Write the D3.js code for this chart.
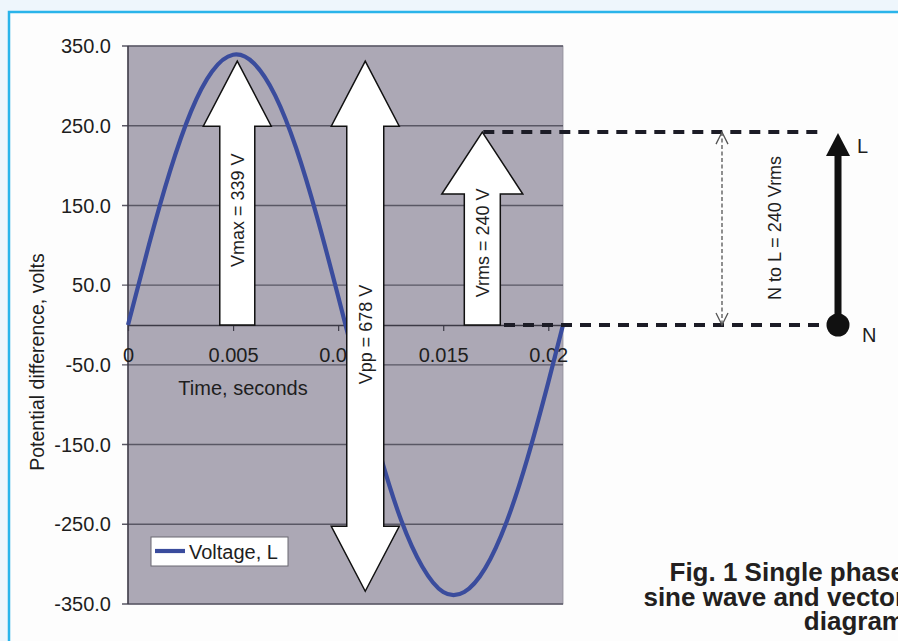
<!DOCTYPE html>
<html><head><meta charset="utf-8">
<script src="https://cdn.jsdelivr.net/npm/d3@7"></script>
<style>
html,body{margin:0;padding:0;background:#eef6fc;}
svg{display:block;font-family:"Liberation Sans",Arial,Helvetica,sans-serif;}
</style></head><body>
<svg id="c" width="898" height="641"></svg>
<script>
// ---- data ----
const timeValues = [0,0.001,0.002,0.003,0.004,0.005,0.006,0.007,0.008,0.009,0.010,0.011,0.012,0.013,0.014,0.015,0.016,0.017,0.018,0.019,0.020,0.0207];
const voltageValues = [0,101,193,268,318,339,328,288,222,135,36,-66,-163,-245,-303,-335,-335,-305,-248,-168,-72,0];
const xTickValues = [0,0.005,0.01,0.015,0.02];
const xTickLabels = ["0","0.005","0.01","0.015","0.02"];
const yTickValues = [350,250,150,50,-50,-150,-250,-350];
const seriesName = "Voltage, L";
const xTitle = "Time, seconds";
const yTitle = "Potential difference, volts";
const arrowLabels = ["Vmax = 339 V","Vpp = 678 V","Vrms = 240 V"];
const arrowTimes = [0.0052,0.01129,0.01686];
const arrowTops = [331,331,242];
const arrowBottoms = [0,-334,0];
const arrowLabelValues = [144,-12,103];
const vectorLabel = "N to L = 240 Vrms";
const rmsValue = 242;
const captionLines = ["Fig. 1 Single phase","sine wave and vector","diagram"];

// ---- layout ----
const svg = d3.select("#c");
const X0 = 128, X1 = 563, Y0 = 46, Y1 = 604;
const x = d3.scaleLinear().domain([0,0.0207]).range([X0,X1]);
const y = d3.scaleLinear().domain([-350,350]).range([Y1,Y0]);

// white panel with cyan border
svg.append("rect").attr("x",9).attr("y",12).attr("width",960).attr("height",700)
  .attr("fill","#fdfdfd").attr("stroke","#2ab4ea").attr("stroke-width",2.5);

// plot area
svg.append("rect").attr("x",X0).attr("y",Y0).attr("width",X1-X0).attr("height",Y1-Y0)
  .attr("fill","#aca8b5").attr("stroke","#8f8c99").attr("stroke-width",0.8);

// gridlines + y ticks
svg.append("g").selectAll("line").data(yTickValues).join("line")
  .attr("x1",X0-6).attr("x2",X1).attr("y1",d=>y(d)).attr("y2",d=>y(d))
  .attr("stroke","#595764").attr("stroke-width",1.4);
svg.append("g").selectAll("text").data(yTickValues).join("text")
  .attr("x",111).attr("y",d=>y(d)).attr("dy","0.36em").attr("text-anchor","end")
  .attr("font-size",20).attr("fill","#1e1e1e").text(d=>d.toFixed(1));

// y axis line
svg.append("line").attr("x1",X0).attr("x2",X0).attr("y1",Y0).attr("y2",Y1)
  .attr("stroke","#3c3a46").attr("stroke-width",1.5);

// x axis at zero
const xAxis = d3.axisBottom(x).tickValues(xTickValues).tickFormat((d,i)=>xTickLabels[i])
  .tickSizeInner(6).tickSizeOuter(0).tickPadding(17);
const gx = svg.append("g").attr("transform",`translate(0,${y(0)})`).call(xAxis);
gx.select(".domain").attr("stroke","#3c3a46").attr("stroke-width",1.5);
gx.selectAll(".tick line").attr("stroke","#3c3a46").attr("stroke-width",1.2);
gx.selectAll(".tick text").attr("font-size",20).attr("fill","#1e1e1e")
  .attr("font-family","Liberation Sans, Arial, sans-serif");

// axis titles
svg.append("text").attr("x",243).attr("y",395).attr("text-anchor","middle")
  .attr("font-size",20).attr("fill","#1e1e1e").text(xTitle);
svg.append("text").attr("transform","translate(37,362) rotate(-90)")
  .attr("text-anchor","middle").attr("dy","0.36em")
  .attr("font-size",19.5).attr("fill","#1e1e1e").text(yTitle);

// curve
const pts = timeValues.map((t,i)=>[t,voltageValues[i]]);
svg.append("path").datum(pts)
  .attr("d",d3.line().x(d=>x(d[0])).y(d=>y(d[1])).curve(d3.curveNatural))
  .attr("fill","none").attr("stroke","#3a4c9d").attr("stroke-width",4.2);

// block arrows
const shaftHalf = [17.5,18.5,18], headHalf = [34,34,40.5], headLen = [65,65,62];
function blockArrow(i){
  const cx = x(arrowTimes[i]), yt = y(arrowTops[i]), yb = y(arrowBottoms[i]);
  const s = shaftHalf[i], h = headHalf[i], L = headLen[i];
  let p = [[cx-s,yt+L],[cx-h,yt+L],[cx,yt],[cx+h,yt+L],[cx+s,yt+L]];
  if (arrowBottoms[i] < 0) {
    p = p.concat([[cx+s,yb-L],[cx+h,yb-L],[cx,yb],[cx-h,yb-L],[cx-s,yb-L]]);
  } else {
    p = p.concat([[cx+s,yb],[cx-s,yb]]);
  }
  svg.append("path").attr("d","M"+p.map(q=>q.join(",")).join("L")+"Z")
    .attr("fill","#ffffff").attr("stroke","#111").attr("stroke-width",1.5)
    .attr("stroke-linejoin","miter");
  svg.append("text").attr("transform",`translate(${cx},${y(arrowLabelValues[i])}) rotate(-90)`)
    .attr("text-anchor","middle").attr("dy","0.36em")
    .attr("font-size",18).attr("fill","#1e1e1e").text(arrowLabels[i]);
}
[0,1,2].forEach(blockArrow);

// dashed level lines
svg.append("line").attr("x1",x(arrowTimes[2])+1).attr("x2",825).attr("y1",y(rmsValue)).attr("y2",y(rmsValue))
  .attr("stroke","#1c1c26").attr("stroke-width",4).attr("stroke-dasharray","11 8");
svg.append("line").attr("x1",504).attr("x2",825).attr("y1",y(0)).attr("y2",y(0))
  .attr("stroke","#1c1c26").attr("stroke-width",4).attr("stroke-dasharray","11 8");

// thin dashed double arrow
const ax = 722, ay1 = y(rmsValue), ay2 = y(0);
svg.append("line").attr("x1",ax).attr("x2",ax).attr("y1",ay1).attr("y2",ay2)
  .attr("stroke","#555").attr("stroke-width",1.3).attr("stroke-dasharray","4 2.5");
svg.append("path").attr("d",`M${ax-6},${ay1+12}L${ax},${ay1}L${ax+6},${ay1+12}M${ax-6},${ay2-12}L${ax},${ay2}L${ax+6},${ay2-12}`)
  .attr("fill","none").attr("stroke","#555").attr("stroke-width",1.3);
svg.append("text").attr("transform","translate(775,228) rotate(-90)")
  .attr("text-anchor","middle").attr("dy","0.36em")
  .attr("font-size",18).attr("fill","#1e1e1e").text(vectorLabel);

// phasor
const px = 838;
svg.append("line").attr("x1",px).attr("x2",px).attr("y1",y(0)).attr("y2",y(rmsValue)+20)
  .attr("stroke","#111").attr("stroke-width",7);
svg.append("path").attr("d",`M${px-12},${y(rmsValue)+24}L${px},${y(rmsValue)+1}L${px+12},${y(rmsValue)+24}Z`)
  .attr("fill","#111");
svg.append("circle").attr("cx",px).attr("cy",y(0)).attr("r",11.5).attr("fill","#111");
svg.append("text").attr("x",857).attr("y",153).attr("font-size",20).attr("fill","#1e1e1e").text("L");
svg.append("text").attr("x",862).attr("y",342).attr("font-size",20).attr("fill","#1e1e1e").text("N");

// legend
svg.append("rect").attr("x",151).attr("y",537).attr("width",137).attr("height",29)
  .attr("fill","#fff").attr("stroke","#6a6872").attr("stroke-width",1);
svg.append("line").attr("x1",155).attr("x2",185).attr("y1",551).attr("y2",551)
  .attr("stroke","#3a4c9d").attr("stroke-width",4.2);
svg.append("text").attr("x",189).attr("y",558.5).attr("font-size",20).attr("fill","#1e1e1e").text(seriesName);

// caption
svg.append("g").selectAll("text").data(captionLines).join("text")
  .attr("x",905).attr("y",(d,i)=>581+i*24.5).attr("text-anchor","end")
  .attr("font-size",26).attr("font-weight","bold").attr("fill","#231f20").text(d=>d);
</script>
</body></html>
